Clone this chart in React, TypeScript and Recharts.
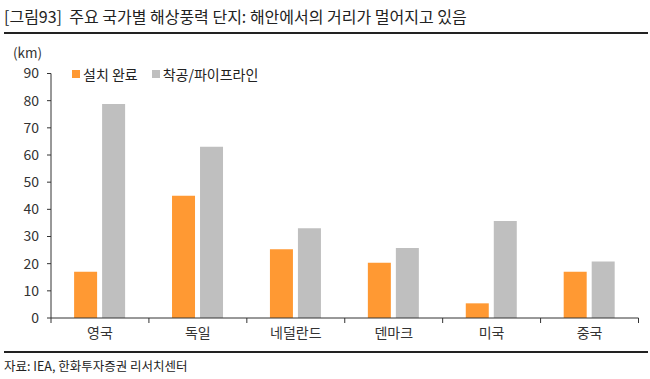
import { BarChart, Bar, XAxis, YAxis } from "recharts";

const countries = ["영국", "독일", "네덜란드", "덴마크", "미국", "중국"];
const installed = [17, 45, 25.3, 20.3, 5.4, 17];
const pipeline = [78.8, 63, 33, 25.8, 35.7, 20.8];
const yTicks = [0, 10, 20, 30, 40, 50, 60, 70, 80, 90];
const seriesNames = ["설치 완료", "착공/파이프라인"];
const seriesColors = ["#FF9933", "#BFBFBF"];

const chartData = countries.map((name, i) => ({
  name,
  installed: installed[i],
  pipeline: pipeline[i]
}));

const FONT = "'Noto Sans CJK KR', 'Noto Sans', sans-serif";

// category label + boundary tick marks
const CategoryTick = (props: any) => {
  const { x, y, payload, index } = props;
  const half = payload.offset || 0;
  const top = y - 8;
  return (
    <g>
      <line x1={x - half} x2={x - half} y1={top} y2={top + 5} stroke="#333" />
      {index === countries.length - 1 && (
        <line x1={x + half} x2={x + half} y1={top} y2={top + 5} stroke="#333" />
      )}
      <text x={x} y={y + 12} textAnchor="middle" fill="#333" fontSize={14} fontFamily={FONT}>
        {payload.value}
      </text>
    </g>
  );
};

export default function App() {
  return (
    <div style={{ position: "absolute", left: 0, top: 0, width: 650, height: 379, background: "#fff", fontFamily: FONT }}>
      {/* Title */}
      <div style={{ position: "absolute", left: 4, top: 4, fontSize: 16, color: "#222", whiteSpace: "pre" }}>
        {"[그림93]  주요 국가별 해상풍력 단지: 해안에서의 거리가 멀어지고 있음"}
      </div>
      <div style={{ position: "absolute", left: 4, top: 32, width: 644, height: 1.5, background: "#222" }} />
      <div style={{ position: "absolute", left: 13, top: 45, fontSize: 13.5, lineHeight: "14px", color: "#333" }}>(km)</div>

      {/* Legend */}
      <div style={{ position: "absolute", left: 72, top: 64, display: "flex", fontSize: 14, color: "#222" }}>
        {seriesNames.map((n, i) => (
          <div key={n} style={{ display: "flex", alignItems: "center", marginRight: 14 }}>
            <div style={{ width: 8, height: 8, background: seriesColors[i], marginRight: 3 }} />
            <span>{n}</span>
          </div>
        ))}
      </div>

      <div style={{ position: "absolute", left: 0, top: 0 }}>
        <BarChart
          width={650}
          height={379}
          data={chartData}
          margin={{ top: 73.5, right: 11.5, bottom: 31, left: 0 }}
          barCategoryGap="23.6%"
          barGap={5}
        >
          <YAxis
            domain={[0, 90]}
            ticks={yTicks}
            interval={0}
            width={51}
            axisLine={{ stroke: "#333" }}
            tickLine={{ stroke: "#333" }}
            tickSize={4}
            tick={{ fill: "#333", fontSize: 14, fontFamily: FONT, dx: -6 }}
          />
          <XAxis
            dataKey="name"
            height={30}
            axisLine={{ stroke: "#333" }}
            tickLine={false}
            tick={<CategoryTick />}
            interval={0}
          />
          <Bar dataKey="installed" name={seriesNames[0]} fill={seriesColors[0]} isAnimationActive={false} />
          <Bar dataKey="pipeline" name={seriesNames[1]} fill={seriesColors[1]} isAnimationActive={false} />
        </BarChart>
      </div>

      <div style={{ position: "absolute", left: 4, top: 351, width: 644, height: 1.5, background: "#222" }} />
      <div style={{ position: "absolute", left: 4, top: 356, fontSize: 12.5, color: "#222" }}>
        자료: IEA, 한화투자증권 리서치센터
      </div>
    </div>
  );
}
